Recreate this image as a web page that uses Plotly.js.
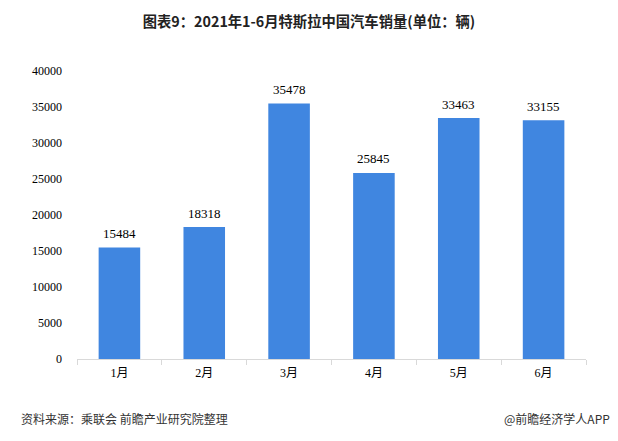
<!DOCTYPE html>
<html><head><meta charset="utf-8">
<script src="https://cdn.plot.ly/plotly-3.0.1.min.js"></script>
<style>html,body{margin:0;padding:0;background:#fff}</style>
</head><body>
<div id="chart" style="width:618px;height:441px"></div>
<script>
const categories = ["1月","2月","3月","4月","5月","6月"];
const sales = [15484, 18318, 35478, 25845, 33463, 33155];
const yTicks = [0,5000,10000,15000,20000,25000,30000,35000,40000];

const trace = {
  type: "bar",
  x: categories,
  y: sales,
  marker: {color: "rgb(64,134,224)"},
  hoverinfo: "none"
};

const valueLabels = categories.map((c, i) => ({
  x: c, y: sales[i], xref: "x", yref: "y",
  text: String(sales[i]), showarrow: false,
  xanchor: "center", yanchor: "middle", yshift: 14,
  font: {family: "Liberation Serif, Times New Roman, serif", size: 13, color: "#000"}
}));

const layout = {
  width: 618, height: 441,
  margin: {l: 77, r: 32, t: 71, b: 82},
  paper_bgcolor: "#fff", plot_bgcolor: "#fff",
  bargap: 0.51,
  showlegend: false,
  title: {
    text: "<b>图表9：2021年1-6月特斯拉中国汽车销量(单位：辆)</b>",
    font: {family: "Noto Sans CJK SC, sans-serif", size: 14.3, color: "#222"},
    x: 0.5, xanchor: "center", y: 0.95, yanchor: "middle"
  },
  xaxis: {
    type: "category",
    showline: true, linecolor: "#d9d9d9", linewidth: 1,
    ticks: "outside", tickson: "boundaries", ticklen: 5, tickcolor: "#d9d9d9",
    ticklabelstandoff: 3,
    showgrid: false, zeroline: false,
    tickfont: {family: "Liberation Serif, Noto Sans CJK SC, serif", size: 12, color: "#000"}
  },
  yaxis: {
    range: [0, 40000],
    tickvals: yTicks,
    ticktext: yTicks.map(String),
    showgrid: false, zeroline: false, showline: false,
    ticks: "", ticklabelstandoff: 14,
    tickfont: {family: "Liberation Serif, Times New Roman, serif", size: 12, color: "#000"}
  },
  annotations: valueLabels.concat([
    {text: "资料来源：乘联会 前瞻产业研究院整理", xref: "paper", yref: "paper",
     x: -0.113, y: -0.205, xanchor: "left", yanchor: "middle", showarrow: false,
     font: {family: "Noto Sans CJK SC, sans-serif", size: 12, color: "#333"}},
    {text: "@前瞻经济学人APP", xref: "paper", yref: "paper",
     x: 1.052, y: -0.205, xanchor: "right", yanchor: "middle", showarrow: false,
     font: {family: "Noto Sans CJK SC, sans-serif", size: 12, color: "#333"}}
  ])
};

Plotly.newPlot("chart", [trace], layout, {displayModeBar: false, staticPlot: true});
</script>
</body></html>
